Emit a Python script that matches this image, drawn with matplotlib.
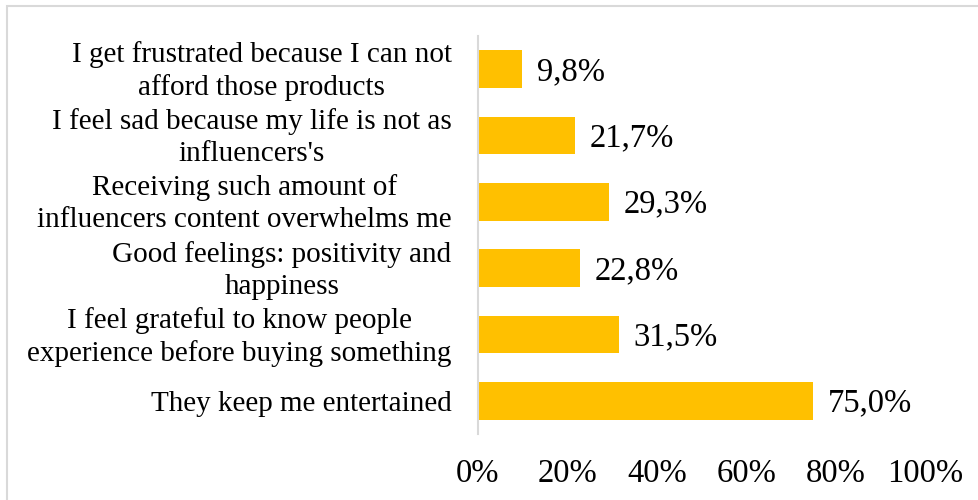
import matplotlib.pyplot as plt
import matplotlib.transforms as mtransforms
from matplotlib.patches import Rectangle
from matplotlib.ticker import FuncFormatter

# survey answers, bottom to top as drawn
categories = [
    "They keep me entertained",
    "I feel grateful to know people\nexperience before buying something",
    "Good feelings: positivity and\nhappiness",
    "Receiving such amount of\ninfluencers content overwhelms me",
    "I feel sad because my life is not as\ninfluencers's",
    "I get frustrated because I can not\nafford those products",
]
values = [75.0, 31.5, 22.8, 29.3, 21.7, 9.8]
xticks = [0, 20, 40, 60, 80, 100]

plt.rcParams['font.family'] = ['Liberation Serif', 'DejaVu Serif']

fig = plt.figure(figsize=(9.79, 5.0), dpi=100)
ax = fig.add_axes([478 / 979, 1 - 434 / 500, 447 / 979, 398 / 500])

ypos = list(range(len(categories)))
ax.barh(ypos, values, height=0.57, color='#FFC000')

for y, v in zip(ypos, values):
    ax.text(v + 3.3, y - 0.04, f"{v:.1f}%".replace('.', ','),
            va='center', ha='left', fontsize=23.5)

ax.set_xlim(0, 100)
ax.set_ylim(-0.5, len(categories) - 0.5)
ax.set_yticks(ypos)
ax.set_yticklabels(categories, fontsize=21, linespacing=1.3,
                   multialignment='center')
ax.set_xticks(xticks)
ax.xaxis.set_major_formatter(FuncFormatter(lambda x, p: f"{x:.0f}%"))
ax.tick_params(axis='x', labelsize=23.5, length=0, pad=18)
ax.tick_params(axis='y', length=0, pad=19)

# two-line labels sit a little high in the original
shift = mtransforms.ScaledTranslation(0, 4 / 100, fig.dpi_scale_trans)
for lbl in ax.get_yticklabels():
    if '\n' in lbl.get_text():
        lbl.set_transform(lbl.get_transform() + shift)

for side in ['top', 'right', 'bottom']:
    ax.spines[side].set_visible(False)
ax.spines['left'].set_color('#D9D9D9')
ax.spines['left'].set_linewidth(1.5)

# light frame around the chart area
fig.patches.append(Rectangle((7 / 979, -0.1), 1.2, (1 - 6 / 500) + 0.1,
                             transform=fig.transFigure, fill=False,
                             edgecolor='#D9D9D9', linewidth=1.5))

fig.savefig('out.png', dpi=100)
